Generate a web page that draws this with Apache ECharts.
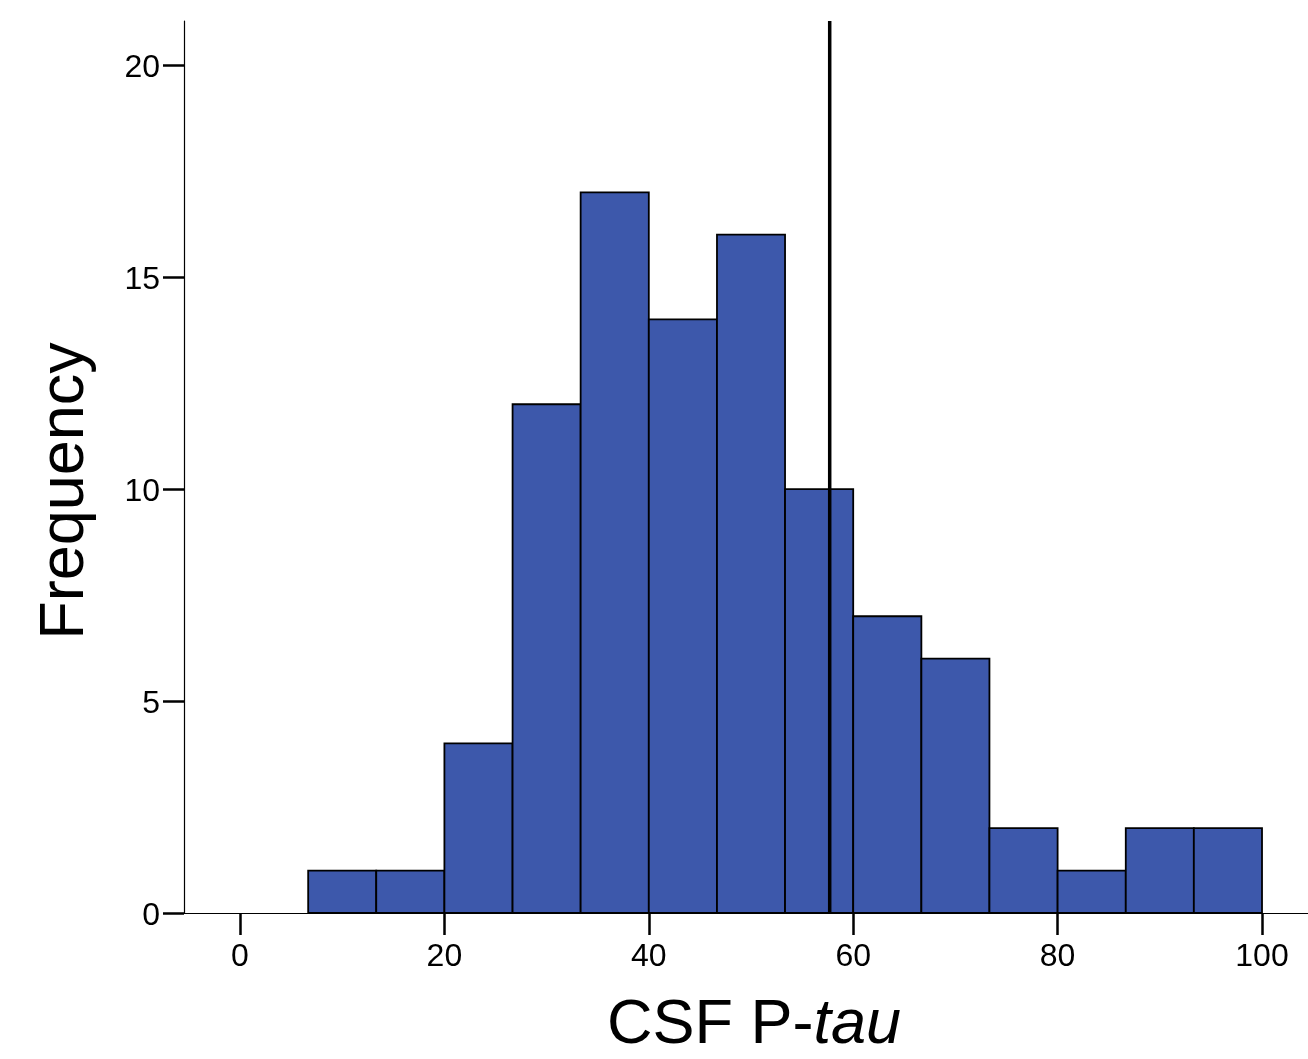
<!DOCTYPE html>
<html>
<head>
<meta charset="utf-8">
<script src="https://cdn.jsdelivr.net/npm/echarts@6/dist/echarts.min.js"></script>
<style>
html,body{margin:0;padding:0;background:#fff;}
#chart{width:1308px;height:1059px;}
</style>
</head>
<body>
<div id="chart"></div>
<script>
// Histogram bins (CSF P-tau)
const binStart = [6.67, 13.33, 20, 26.67, 33.33, 40, 46.67, 53.33, 60, 66.67, 73.33, 80, 86.67, 93.33];
const binEnd   = [13.33, 20, 26.67, 33.33, 40, 46.67, 53.33, 60, 66.67, 73.33, 80, 86.67, 93.33, 100];
const counts   = [1, 1, 4, 12, 17, 14, 16, 10, 7, 6, 2, 1, 2, 2];
const xTicks = [0, 20, 40, 60, 80, 100];
const yTicks = [0, 5, 10, 15, 20];
const cutoff = 57.7;

const FONT = '"Liberation Sans", Arial, Helvetica, sans-serif';
const xMin = -5.48, xMax = 104.5, yMin = 0, yMax = 21.04;

const barData = binStart.map((s, i) => [s, binEnd[i], counts[i]]);

const chart = echarts.init(document.getElementById('chart'), null, {renderer: 'canvas'});
chart.setOption({
  animation: false,
  backgroundColor: '#ffffff',
  grid: {left: 184, right: 0, top: 21, bottom: 146, containLabel: false, outerBoundsMode: 'none'},
  xAxis: {
    type: 'value', min: xMin, max: xMax,
    name: 'CSF P-{i|tau}', nameLocation: 'middle', nameGap: 81,
    nameTextStyle: {fontFamily: FONT, fontSize: 63, color: '#000', padding: [0, 0, 0, 16],
      rich: {i: {fontFamily: FONT, fontSize: 63, fontStyle: 'italic', color: '#000'}}},
    axisLine: {show: true, onZero: false, lineStyle: {color: '#000', width: 1.2}},
    axisTick: {show: true, length: 22, inside: false, customValues: xTicks, lineStyle: {color: '#000', width: 2.5}},
    axisLabel: {show: true, margin: 28, customValues: xTicks, fontFamily: FONT, fontSize: 32, color: '#000'},
    splitLine: {show: false}
  },
  yAxis: {
    type: 'value', min: yMin, max: yMax,
    name: 'Frequency', nameLocation: 'middle', nameGap: 87, nameRotate: 90,
    nameTextStyle: {fontFamily: FONT, fontSize: 63, color: '#000', padding: [0, 48, 0, 0]},
    axisLine: {show: true, onZero: false, lineStyle: {color: '#000', width: 1.2}},
    axisTick: {show: true, length: 21, inside: false, customValues: yTicks, lineStyle: {color: '#000', width: 2.5}},
    axisLabel: {show: true, margin: 24, customValues: yTicks, fontFamily: FONT, fontSize: 32, color: '#000',
      formatter: function (v) { return '{a|' + v + '}'; },
      rich: {a: {fontFamily: FONT, fontSize: 32, color: '#000', padding: [7, 0, 0, 0]}}},
    splitLine: {show: false}
  },
  series: [
    {
      type: 'custom',
      data: barData,
      encode: {x: [0, 1], y: 2},
      renderItem: function (params, api) {
        const p0 = api.coord([api.value(0), 0]);
        const p1 = api.coord([api.value(1), api.value(2)]);
        return {
          type: 'rect',
          shape: {x: p0[0], y: p1[1], width: p1[0] - p0[0], height: p0[1] - p1[1]},
          style: {fill: '#3D58AB', stroke: '#000', lineWidth: 1.8}
        };
      }
    },
    {
      type: 'line',
      data: [[cutoff, yMin], [cutoff, yMax]],
      symbol: 'none',
      lineStyle: {color: '#000', width: 3.5},
      z: 5
    }
  ]
});
</script>
</body>
</html>
